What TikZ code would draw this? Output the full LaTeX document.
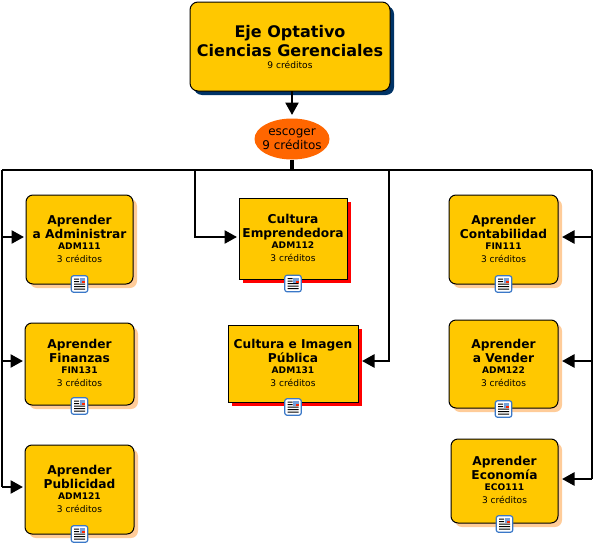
\documentclass[tikz,border=0pt]{standalone}
\usepackage{fontspec}
\setmainfont{DejaVu Sans}
\usetikzlibrary{shapes.geometric,shadows,arrows.meta}
\definecolor{oro}{HTML}{FFC800}
\definecolor{naranja}{HTML}{FF6600}
\definecolor{marino}{HTML}{003366}
\definecolor{durazno}{HTML}{FFCC99}
\definecolor{azulico}{HTML}{3A78C8}

\newcommand{\chica}{\fontsize{9.1}{12}\selectfont}
\newcommand{\curso}[2]{#1\\[-3pt]\chica #2\\[-1pt]\chica\mdseries 3 créditos\rule[-2pt]{0pt}{0pt}}

\begin{document}
\begin{tikzpicture}[x=1pt,y=-1pt,
  caja/.style={draw=black,line width=1pt,fill=oro,align=center,inner sep=0pt,outer sep=0pt,anchor=north west,font=\fontsize{12.2}{14}\selectfont\bfseries},
  curso/.style={caja,rounded corners=7pt,drop shadow={shadow xshift=4pt,shadow yshift=-4pt,fill=durazno,opacity=1}},
  electivo/.style={caja,drop shadow={shadow xshift=4pt,shadow yshift=-4pt,fill=red,opacity=1}},
  linea/.style={line width=2.6pt,line join=miter},
  flecha/.style={linea,-{Triangle[length=12.5pt,width=13pt]}},
  docicon/.pic={
    \draw[azulico,fill=white,line width=1.2pt,rounded corners=2.5pt] (-8.3,-8.3) rectangle (8.3,8.3);
    \fill[black] (-5.5,-5.5) rectangle (-0.5,-4.5) (-5.5,-3) rectangle (-0.5,-2) (-5.5,-0.5) rectangle (5.5,0.5) (-5.5,2) rectangle (5.5,3) (-5.5,4.5) rectangle (5.5,5.5);
    \fill[azulico!70] (0.3,-6) rectangle (5.8,-0.8);
    \fill[red!70!orange] (2.5,-3) rectangle (5.8,-0.8);
  }]
\useasboundingbox (0,0) rectangle (594,546);

\node[caja,rounded corners=8pt,minimum width=200pt,minimum height=89pt,font=\fontsize{16}{20}\selectfont\bfseries,
  drop shadow={shadow xshift=4pt,shadow yshift=-4pt,fill=marino,opacity=1}] (eje) at (190,2)
  {Eje Optativo\\[-1pt]Ciencias Gerenciales\\[-8pt]\chica\mdseries 9 créditos};
\node[ellipse,fill=naranja,minimum width=75pt,minimum height=41pt,inner xsep=-4pt,inner ysep=0pt,align=center,font=\fontsize{12}{14}\selectfont] (esc) at (292,139)
  {escoger\\9 créditos};

% izquierda
\node[curso,minimum width=107pt,minimum height=89pt] (ges1) at (26,195) {\curso{Aprender\\a Administrar}{ADM111}};
\node[curso,minimum width=109pt,minimum height=82pt] (ges2) at (25,323) {\curso{Aprender\\Finanzas}{FIN131}};
\node[curso,minimum width=109pt,minimum height=89pt] (ges3) at (25,445) {\curso{Aprender\\Publicidad}{ADM121}};
% centro
\node[electivo,minimum width=108pt,minimum height=81pt] (cul1) at (239,198) {\curso{Cultura\\Emprendedora}{ADM112}};
\node[electivo,minimum width=130pt,minimum height=77pt] (cul2) at (228,325) {\curso{Cultura e Imagen\\Pública}{ADM131}};
% derecha
\node[curso,minimum width=109pt,minimum height=89pt] (apr1) at (449,195) {\curso{Aprender\\Contabilidad}{FIN111}};
\node[curso,minimum width=109pt,minimum height=88pt] (apr2) at (449,320) {\curso{Aprender\\a Vender}{ADM122}};
\node[curso,minimum width=107pt,minimum height=84pt] (apr3) at (451,439) {\curso{Aprender\\Economía}{ECO111}};

\coordinate (busl) at (2,170);
\coordinate (busr) at (592,170);

\draw[flecha] (eje.south -| 292,0) -- (292,115);
\draw[line width=4pt] (esc.south) -- (292,170);
\draw[linea] (busl) -- (busr);
\draw[linea] (busl) -- (2,487);
\draw[linea] (busr) -- (592,479);

\draw[flecha,shorten >=2pt] (2,237) -- (ges1.west |- 0,237);
\draw[flecha,shorten >=2pt] (2,361) -- (ges2.west |- 0,361);
\draw[flecha,shorten >=2pt] (2,487) -- (ges3.west |- 0,487);
\draw[flecha,shorten >=2pt] (195,170) |- (cul1.west |- 0,237);
\draw[flecha,shorten >=4pt] (389,170) |- (cul2.east |- 0,361);
\draw[flecha,shorten >=4pt] (592,237) -- (apr1.east |- 0,237);
\draw[flecha,shorten >=4pt] (592,361) -- (apr2.east |- 0,361);
\draw[flecha,shorten >=4pt] (592,479) -- (apr3.east |- 0,479);

\foreach \n/\d in {ges1/0,ges2/1,ges3/0,apr1/0,apr2/1,apr3/1,cul1/4.5,cul2/5}
  \path (\n.south) ++(0,\d) pic {docicon};
\end{tikzpicture}
\end{document}
